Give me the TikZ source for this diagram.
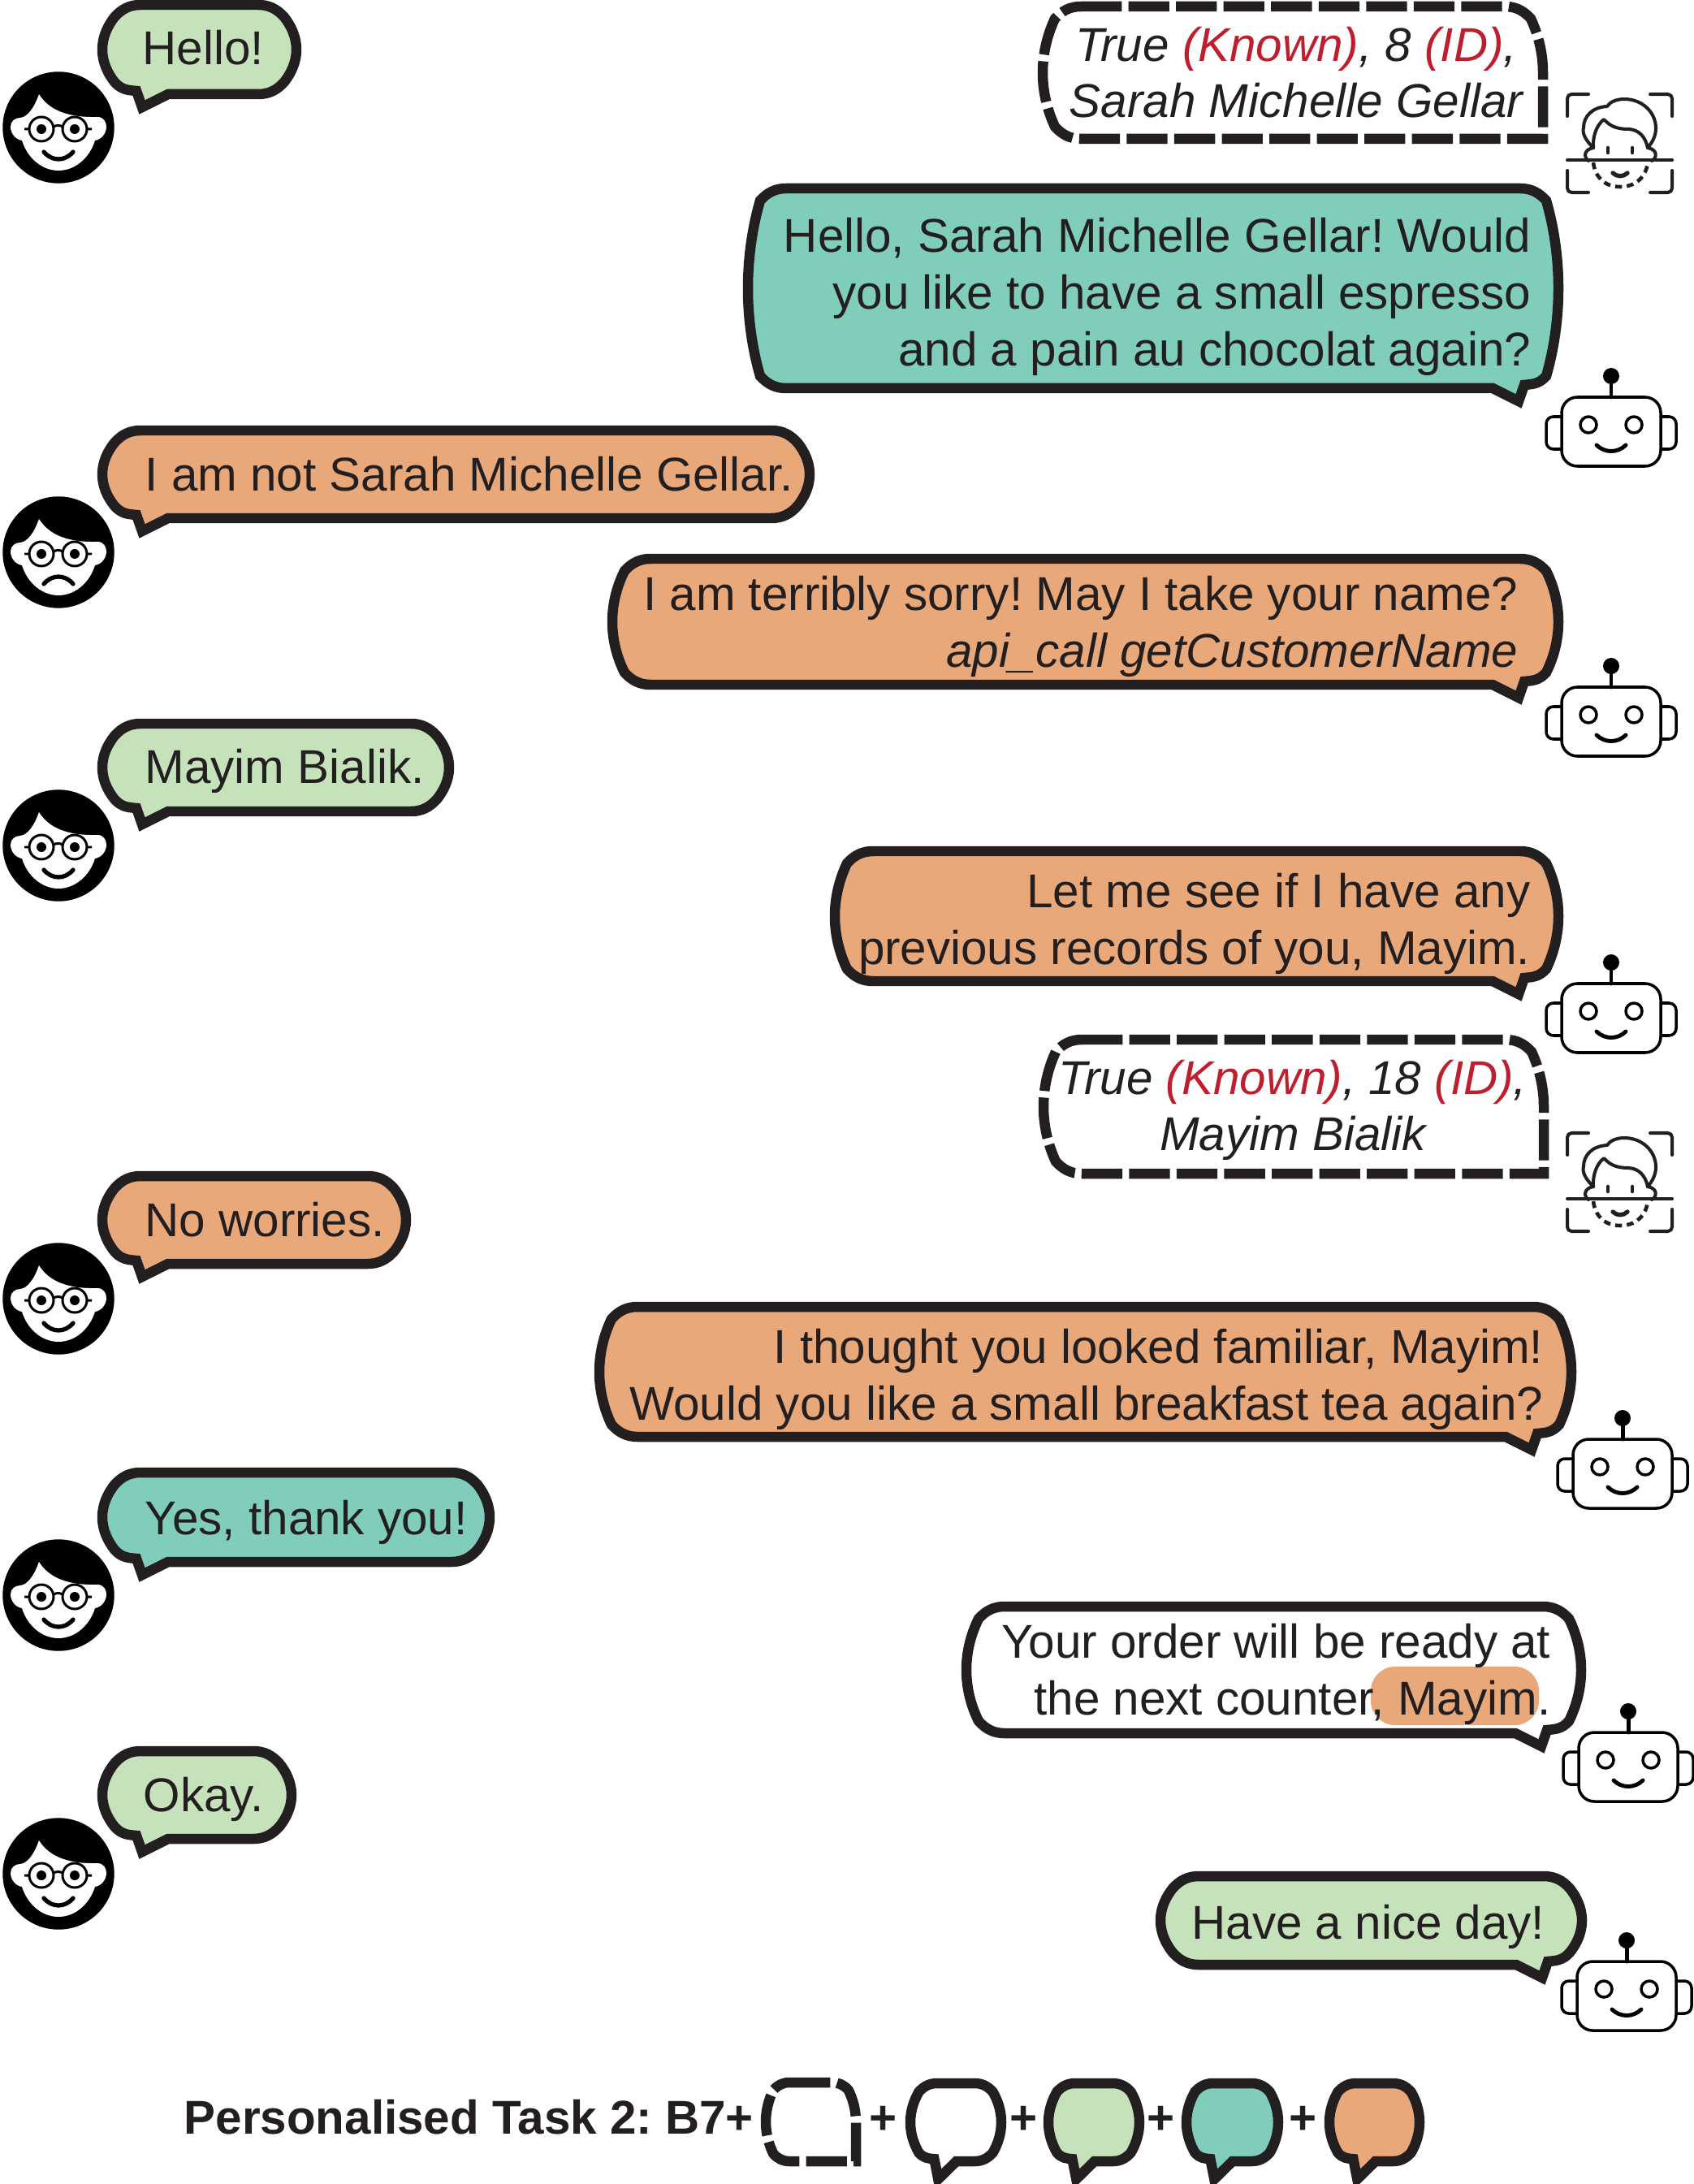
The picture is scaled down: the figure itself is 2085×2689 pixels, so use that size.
\documentclass[tikz,border=0pt]{standalone}
\usepackage{fontspec}
\setmainfont{Liberation Sans}
\definecolor{ink}{HTML}{231F20}
\definecolor{dlggreen}{HTML}{C5E2BB}
\definecolor{dlgteal}{HTML}{80CDBC}
\definecolor{dlgorange}{HTML}{E9A87A}
\definecolor{kbred}{HTML}{BE1E2D}
\frenchspacing
\tikzset{
  bubble/.style={draw=ink,line width=3.55pt,miter limit=12},
  idline/.style={draw=ink,line width=3.55pt,dash pattern=on 14.3pt off 2.35pt},
  say/.style={inner sep=0pt,text=ink,font=\fontsize{16.6}{19.9}\selectfont},
  sayleft/.style={say,anchor=base west},
  sayright/.style={say,anchor=base east},
  sayblock/.style={say,anchor=east,align=right},
  idtext/.style={say,align=center,font=\fontsize{16.6}{19.5}\selectfont\itshape},
  legendtext/.style={say,anchor=base,font=\fontsize{16.6}{19.9}\selectfont\bfseries},
  iconline/.style={draw=ink,line width=1.15pt,line cap=round,line join=round},
  robotline/.style={draw=black,line width=1pt,line cap=round,line join=round},
}
% corner pieces: edge x, inward sign, flat y, inward sign
\newcommand{\cornerin}[4]{.. controls ({#1+#2*34*\bsz},#3) and ({#1+#2*24*\bsz},{#3+#4*5*\bsz}) .. ({#1+#2*15*\bsz},{#3+#4*15*\bsz})
  .. controls ({#1+#2*7*\bsz},{#3+#4*(15*\bsz+.64*\hk)}) and (#1,{\ym-#4*\hk}) .. (#1,\ym)}
\newcommand{\cornerout}[4]{.. controls (#1,{\ym-#4*\hk}) and ({#1+#2*7*\bsz},{#3+#4*(15*\bsz+.64*\hk)}) .. ({#1+#2*15*\bsz},{#3+#4*15*\bsz})
  .. controls ({#1+#2*24*\bsz},{#3+#4*5*\bsz}) and ({#1+#2*34*\bsz},#3) .. ({#1+#2*47*\bsz},#3)}
\newcommand{\bubblesize}[3]{\def\bsz{#3}
  \pgfmathsetmacro\ym{(#1+#2)/2}
  \pgfmathsetmacro\hk{.4*((#2-#1)/2-15*#3)}}
% speech bubbles: left, top, right, bottom, fill, size
\newcommand{\userbubble}[6]{
\bubblesize{#2}{#4}{#6}
\filldraw[bubble,fill=#5] ({#1+47*#6},#2) -- ({#3-47*#6},#2) \cornerin{#3}{-1}{#2}{1} \cornerout{#3}{-1}{#4}{-1}
  -- ({#1+81*#6},#4) -- ({#1+49*#6},{#4+16+(1-#6)*20}) -- ({#1+42*#6},{#4-4*#6})
  .. controls ({#1+32*#6},{#4-5*#6}) and ({#1+24*#6},{#4-5*#6}) .. ({#1+15*#6},{#4-15*#6})
  .. controls ({#1+7*#6},{#4-15*#6-.64*\hk}) and (#1,{\ym+\hk}) .. (#1,\ym)
  \cornerout{#1}{1}{#2}{1} -- cycle;
}
\newcommand{\botbubble}[6]{
\bubblesize{#2}{#4}{#6}
\filldraw[bubble,fill=#5] ({#1+47*#6},#2) -- ({#3-47*#6},#2) \cornerin{#3}{-1}{#2}{1}
  .. controls (#3,{\ym+\hk}) and ({#3-7*#6},{#4-15*#6-.64*\hk}) .. ({#3-15*#6},{#4-15*#6})
  .. controls ({#3-24*#6},{#4-5*#6}) and ({#3-32*#6},{#4-5*#6}) .. ({#3-42*#6},{#4-4*#6})
  -- ({#3-49*#6},{#4+16}) -- ({#3-81*#6},#4) -- ({#1+47*#6},#4)
  \cornerin{#1}{1}{#4}{-1} \cornerout{#1}{1}{#2}{1} -- cycle;
}
% knowledge box, square at the bottom right
\newcommand{\idbox}[5]{
\bubblesize{#2}{#4}{#5}
\draw[idline] ({#1+47*#5},#2) -- ({#3-47*#5},#2) \cornerin{#3}{-1}{#2}{1}
  -- (#3,#4) -- ({#1+47*#5},#4) \cornerin{#1}{1}{#4}{-1} \cornerout{#1}{1}{#2}{1};
}
% customer: x, y, mouth end, mouth middle
\newcommand{\customer}[4]{
\begin{scope}[shift={(#1,#2)}]
\fill[black] (0,0) circle (68.7);
\fill[white] (-24,-41) .. controls (-12,-22) and (10,-12) .. (48,-13) .. controls (56,-13) and (59,-6) .. (59,-1)
  .. controls (59,8) and (52,15) .. (45,16) .. controls (38,38) and (20,53) .. (0,53)
  .. controls (-20,53) and (-38,38) .. (-45,16) .. controls (-52,15) and (-59,8) .. (-59,-1)
  .. controls (-59,-8) and (-53,-12) .. (-47,-12) .. controls (-38,-13) and (-30,-24) .. (-24,-41) -- cycle;
\draw[black,line width=.85pt] (-21,2) circle (15) (20,2) circle (15);
\draw[black,line width=.85pt] (-6,-1) .. controls (-3,-3) and (2,-3) .. (5,-1) (-42,2) -- (-36,2) (35,2) -- (41,2);
\fill[black] (-21,2) circle (6) (20,2) circle (6);
\draw[black,line width=1.5pt,line cap=round] (-18,#3) .. controls (-8,#4) and (8,#4) .. (18,#3);
\end{scope}
}
% robot: x, y
\newcommand{\robothead}[2]{
\begin{scope}[shift={(#1,#2)}]
\draw[robotline,rounded corners=5.5pt] (-61,-42) rectangle (61,43);
\draw[robotline,rounded corners=2.5pt] (-61,-18) -- (-80,-18) -- (-80,22) -- (-61,22);
\draw[robotline,rounded corners=2.5pt] (61,-18) -- (80,-18) -- (80,22) -- (61,22);
\draw[robotline,line width=1.4pt] (0,-68) -- (0,-42);
\fill[black] (0,-68) circle (10);
\draw[robotline] (-28,-8) circle (10) (28,-8) circle (10);
\draw[robotline,line width=1.4pt] (-18,17) .. controls (-8,27) and (8,27) .. (18,17);
\end{scope}
}
% face scanner: x, y
\newcommand{\scanhead}[2]{
\begin{scope}[shift={(#1,#2)}]
\draw[iconline,rounded corners=1.5pt] (-38,-60) -- (-64,-60) -- (-64,-33);
\draw[iconline,rounded corners=1.5pt] (38,-60) -- (65,-60) -- (65,-33);
\draw[iconline,rounded corners=1.5pt] (-38,61) -- (-64,61) -- (-64,34);
\draw[iconline,rounded corners=1.5pt] (38,61) -- (65,61) -- (65,34);
\draw[iconline] (-64,21) -- (65,21);
\draw[iconline] (-32,6) .. controls (-42,-4) and (-46,-12) .. (-44,-19) .. controls (-44,-32) and (-34,-44) .. (-15,-45)
  .. controls (-12,-50) and (-4,-54) .. (6,-54) .. controls (28,-54) and (45,-38) .. (45,-18) .. controls (45,-8) and (40,0) .. (35,6);
\draw[iconline] (-32,6) .. controls (-33,-8) and (-28,-22) .. (-19,-29) .. controls (-12,-22) and (-6,-17) .. (12,-17)
  .. controls (24,-16) and (32,-8) .. (35,6);
\draw[iconline] (-32,6) .. controls (-44,8) and (-44,18) .. (-38,22);
\draw[iconline] (35,6) .. controls (47,8) and (47,18) .. (40,22);
\draw[iconline,line width=1.3pt] (-14,6) -- (-14,12) (16,6) -- (16,12);
\draw[iconline,line cap=butt,line width=1.3pt,dash pattern=on 2.4pt off 1.7pt] (-32,24) .. controls (-30,42) and (-18,54) .. (1,54)
  .. controls (20,54) and (33,42) .. (35,24);
\draw[iconline,line width=1.5pt] (-8,37) .. controls (-3,42) and (5,42) .. (10,37);
\end{scope}
}
\begin{document}
\begin{tikzpicture}[x=0.01cm,y=-0.01cm]
\useasboundingbox (0,0) rectangle (2085,2689);

% knowledge boxes
\idbox{1284}{8}{1900}{171}{1}
\node[idtext] (knownsarah) at (1596,89) {True \textcolor{kbred}{(Known)}, 8 \textcolor{kbred}{(ID)},\\Sarah Michelle Gellar};
\scanhead{1994}{176}
\idbox{1285}{1280}{1901}{1445}{1}
\node[idtext] (knownmayim) at (1592,1367) {True \textcolor{kbred}{(Known)}, 18 \textcolor{kbred}{(ID)},\\Mayim Bialik};
\scanhead{1994}{1455}

% customer turns
\userbubble{126}{6}{365}{116}{dlggreen}{1}
\node[sayleft] (hello) at (175,80) {Hello!};
\customer{72}{157}{30}{42}
\userbubble{126}{530}{997}{638}{dlgorange}{1}
\node[sayleft] (notsarah) at (178,605) {I am not Sarah Michelle Gellar.};
\customer{72}{680}{39}{27}
\userbubble{126}{891}{553}{999}{dlggreen}{1}
\node[sayleft] (mayim) at (178,965) {Mayim Bialik.};
\customer{72}{1041}{30}{42}
\userbubble{126}{1448}{500}{1556}{dlgorange}{1}
\node[sayleft] (worries) at (178,1522) {No worries.};
\customer{72}{1599}{30}{42}
\userbubble{126}{1813}{603}{1923}{dlgteal}{1}
\node[sayleft] (yes) at (178,1889) {Yes, thank you!};
\customer{72}{1964}{30}{42}
\userbubble{126}{2156}{359}{2264}{dlggreen}{1}
\node[sayleft] (okay) at (176,2230) {Okay.};
\customer{72}{2307}{30}{42}

% robot turns
\botbubble{921}{232}{1919}{478}{dlgteal}{1}
\node[sayblock] (greeting) at (1886,365) {Hello, Sarah Michelle Gellar! Would\\you like to have a small espresso\\and a pain au chocolat again?};
\robothead{1984}{531}
\botbubble{754}{688}{1919}{843}{dlgorange}{1}
\node[sayblock] (askname) at (1870,771) {I am terribly sorry! May I take your name?\\\textit{api\_call getCustomerName}};
\robothead{1984}{888}
\botbubble{1028}{1048}{1919}{1208}{dlgorange}{1}
\node[sayblock] (records) at (1885,1137) {Let me see if I have any\\previous records of you, Mayim.};
\robothead{1984}{1253}
\botbubble{738}{1609}{1935}{1769}{dlgorange}{1}
\node[sayblock] (familiar) at (1901,1698) {I thought you looked familiar, Mayim!\\Would you like a small breakfast tea again?};
\robothead{1998}{1814}
\botbubble{1190}{1978}{1947}{2134}{white}{1}
\fill[dlgorange,rounded corners=8.5pt] (1688,2052) rectangle (1895,2124);
\node[sayblock] (ready) at (1910,2061) {Your order will be ready at\\the next counter, Mayim.};
\robothead{2005}{2175}
\botbubble{1429}{2310}{1948}{2419}{dlggreen}{1}
\node[sayright] (niceday) at (1903,2387) {Have a nice day!};
\robothead{2003}{2457}

% legend
\node[legendtext,anchor=base west] (task) at (226,2627) {Personalised Task 2: B7+};
\idbox{943}{2564}{1054}{2661}{.62}
\node[legendtext] (plusa) at (1088,2627) {+};
\userbubble{1121}{2565}{1233}{2661}{white}{.7}
\node[legendtext] (plusb) at (1261,2627) {+};
\userbubble{1291}{2565}{1403}{2661}{dlggreen}{.7}
\node[legendtext] (plusc) at (1430,2627) {+};
\userbubble{1461}{2565}{1574}{2661}{dlgteal}{.7}
\node[legendtext] (plusd) at (1605,2627) {+};
\userbubble{1637}{2565}{1748}{2661}{dlgorange}{.7}
\end{tikzpicture}
\end{document}
